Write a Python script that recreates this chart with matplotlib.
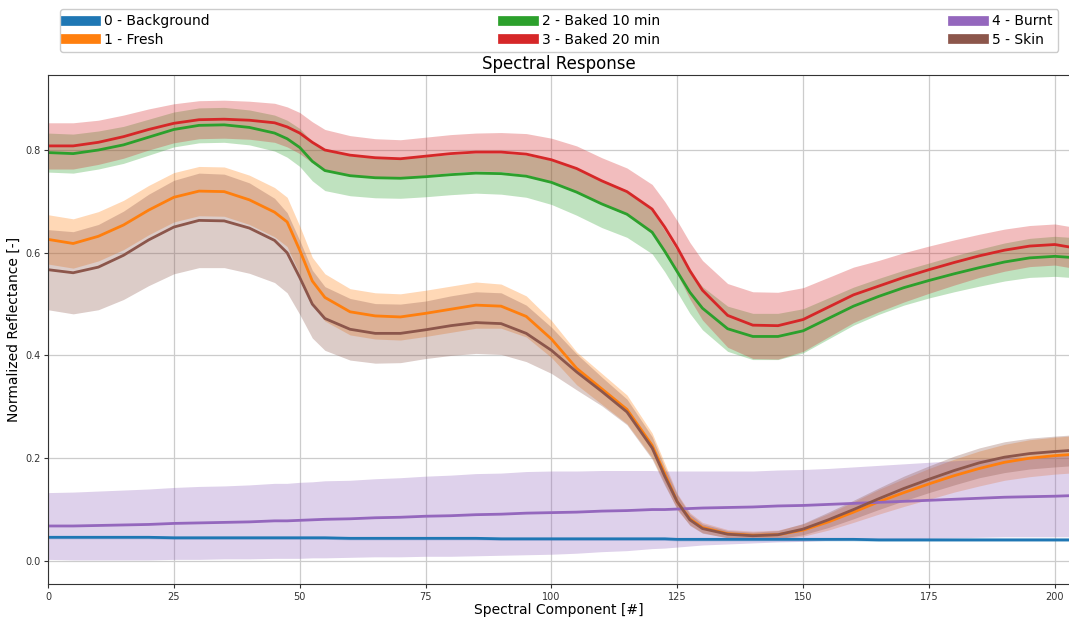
import matplotlib
matplotlib.use("Agg")
import matplotlib.pyplot as plt
from matplotlib.lines import Line2D
import numpy as np

# ---------------- data ----------------
x = [0, 5, 10, 15, 20, 25, 30, 35, 40, 45, 47.5, 50, 52.5, 55, 60, 65, 70, 75, 80, 85,
     90, 95, 100, 105, 110, 115, 120, 122.5, 125, 127.5, 130, 135, 140, 145, 150, 155,
     160, 165, 170, 175, 180, 185, 190, 195, 200, 203]

labels = ["0 - Background", "1 - Fresh", "2 - Baked 10 min",
          "3 - Baked 20 min", "4 - Burnt", "5 - Skin"]

background_mean = [0.046, 0.046, 0.046, 0.046, 0.046, 0.045, 0.045, 0.045, 0.045, 0.045,
                   0.045, 0.045, 0.045, 0.045, 0.044, 0.044, 0.044, 0.044, 0.044, 0.044,
                   0.043, 0.043, 0.043, 0.043, 0.043, 0.043, 0.043, 0.043, 0.042, 0.042,
                   0.042, 0.042, 0.042, 0.042, 0.042, 0.042, 0.042, 0.041, 0.041, 0.041,
                   0.041, 0.041, 0.041, 0.041, 0.041, 0.041]
background_std = [0.003] * 46

fresh_mean = [0.626, 0.618, 0.632, 0.654, 0.683, 0.708, 0.720, 0.719, 0.703, 0.679,
              0.660, 0.605, 0.545, 0.513, 0.485, 0.477, 0.475, 0.482, 0.490, 0.498,
              0.496, 0.476, 0.432, 0.375, 0.335, 0.295, 0.225, 0.170, 0.115, 0.082,
              0.065, 0.053, 0.050, 0.051, 0.060, 0.076, 0.095, 0.115, 0.133, 0.150,
              0.166, 0.180, 0.192, 0.200, 0.205, 0.207]
fresh_std = [0.048, 0.048, 0.048, 0.048, 0.048, 0.048, 0.048, 0.048, 0.048, 0.048,
             0.048, 0.047, 0.046, 0.046, 0.045, 0.045, 0.045, 0.045, 0.045, 0.045,
             0.043, 0.040, 0.036, 0.032, 0.030, 0.028, 0.024, 0.020, 0.016, 0.012,
             0.010, 0.008, 0.008, 0.009, 0.012, 0.016, 0.020, 0.024, 0.027, 0.030,
             0.032, 0.034, 0.035, 0.036, 0.036, 0.036]

baked10_mean = [0.795, 0.793, 0.800, 0.810, 0.825, 0.840, 0.848, 0.849, 0.844, 0.833,
                0.822, 0.805, 0.778, 0.760, 0.750, 0.746, 0.745, 0.748, 0.752, 0.755,
                0.754, 0.749, 0.737, 0.718, 0.695, 0.675, 0.640, 0.603, 0.563, 0.523,
                0.492, 0.452, 0.437, 0.437, 0.448, 0.472, 0.496, 0.515, 0.532, 0.546,
                0.559, 0.571, 0.582, 0.590, 0.593, 0.591]
baked10_std = [0.038, 0.038, 0.037, 0.036, 0.035, 0.034, 0.034, 0.034, 0.034, 0.035,
               0.036, 0.037, 0.038, 0.039, 0.039, 0.039, 0.039, 0.039, 0.039, 0.039,
               0.040, 0.041, 0.043, 0.045, 0.046, 0.045, 0.042, 0.040, 0.040, 0.041,
               0.042, 0.044, 0.045, 0.045, 0.043, 0.040, 0.037, 0.035, 0.034, 0.034,
               0.035, 0.036, 0.037, 0.038, 0.039, 0.039]

baked20_mean = [0.808, 0.808, 0.815, 0.826, 0.840, 0.852, 0.859, 0.860, 0.858, 0.853,
                0.845, 0.833, 0.815, 0.800, 0.790, 0.785, 0.783, 0.788, 0.793, 0.796,
                0.796, 0.792, 0.781, 0.764, 0.740, 0.719, 0.685, 0.650, 0.610, 0.565,
                0.527, 0.478, 0.459, 0.458, 0.470, 0.494, 0.518, 0.535, 0.552, 0.567,
                0.581, 0.594, 0.605, 0.613, 0.616, 0.611]
baked20_std = [0.045, 0.045, 0.043, 0.042, 0.040, 0.038, 0.037, 0.037, 0.037, 0.038,
               0.039, 0.040, 0.040, 0.040, 0.038, 0.037, 0.037, 0.037, 0.037, 0.037,
               0.038, 0.040, 0.042, 0.044, 0.045, 0.046, 0.048, 0.050, 0.052, 0.055,
               0.058, 0.062, 0.065, 0.065, 0.062, 0.058, 0.054, 0.050, 0.048, 0.046,
               0.044, 0.042, 0.041, 0.040, 0.040, 0.040]

burnt_mean = [0.068, 0.068, 0.069, 0.070, 0.071, 0.073, 0.074, 0.075, 0.076, 0.078,
              0.078, 0.079, 0.080, 0.081, 0.082, 0.084, 0.085, 0.087, 0.088, 0.090,
              0.091, 0.093, 0.094, 0.095, 0.097, 0.098, 0.100, 0.100, 0.101, 0.102,
              0.103, 0.104, 0.105, 0.107, 0.108, 0.110, 0.112, 0.114, 0.116, 0.118,
              0.120, 0.122, 0.124, 0.125, 0.126, 0.127]
burnt_std = [0.065, 0.066, 0.067, 0.068, 0.069, 0.070, 0.071, 0.071, 0.072, 0.073,
             0.073, 0.074, 0.074, 0.075, 0.075, 0.076, 0.077, 0.078, 0.079, 0.080,
             0.080, 0.081, 0.081, 0.080, 0.079, 0.078, 0.076, 0.075, 0.074, 0.073,
             0.072, 0.071, 0.070, 0.070, 0.070, 0.070, 0.071, 0.072, 0.073, 0.074,
             0.075, 0.076, 0.077, 0.078, 0.079, 0.080]

skin_mean = [0.567, 0.561, 0.572, 0.595, 0.625, 0.650, 0.663, 0.662, 0.648, 0.624,
             0.600, 0.552, 0.500, 0.472, 0.451, 0.443, 0.443, 0.450, 0.458, 0.464,
             0.462, 0.443, 0.410, 0.368, 0.330, 0.290, 0.220, 0.165, 0.115, 0.080,
             0.063, 0.052, 0.049, 0.051, 0.062, 0.080, 0.100, 0.121, 0.141, 0.159,
             0.176, 0.191, 0.202, 0.209, 0.213, 0.215]
skin_std = [0.078, 0.080, 0.083, 0.086, 0.089, 0.091, 0.092, 0.091, 0.088, 0.082,
            0.078, 0.072, 0.066, 0.062, 0.060, 0.058, 0.057, 0.056, 0.058, 0.060,
            0.060, 0.055, 0.045, 0.035, 0.028, 0.025, 0.022, 0.018, 0.014, 0.011,
            0.009, 0.007, 0.007, 0.008, 0.011, 0.015, 0.018, 0.021, 0.024, 0.026,
            0.028, 0.029, 0.030, 0.030, 0.030, 0.030]

colors = ["#1f77b4", "#ff7f0e", "#2ca02c", "#d62728", "#9467bd", "#8c564b"]

means = [background_mean, fresh_mean, baked10_mean, baked20_mean, burnt_mean, skin_mean]
stds = [background_std, fresh_std, baked10_std, baked20_std, burnt_std, skin_std]

# ---------------- plot ----------------
fig = plt.figure(figsize=(10.69, 6.19), dpi=100)
ax = fig.add_axes([0.0449, 0.0565, 0.956, 0.8223])

xa = np.array(x)
for m, s, c in zip(means, stds, colors):
    m = np.array(m)
    s = np.array(s)
    ax.fill_between(xa, m - s, m + s, color=c, alpha=0.3, linewidth=0)
    ax.plot(xa, m, color=c, linewidth=2)

ax.set_xlim(0, 203)
ax.set_ylim(-0.045, 0.946)
ax.set_xticks([0, 25, 50, 75, 100, 125, 150, 175, 200])
ax.set_yticks([0.0, 0.2, 0.4, 0.6, 0.8])
ax.tick_params(labelsize=7, colors="#333333", length=3, pad=2.5)
ax.grid(True, color="#cccccc", linewidth=0.9)
ax.set_axisbelow(True)
for sp in ax.spines.values():
    sp.set_color("#333333")

ax.set_title("Spectral Response", fontsize=12, pad=4)
ax.set_xlabel("Spectral Component [#]", fontsize=10, labelpad=1)
ax.set_ylabel("Normalized Reflectance [-]", fontsize=10, labelpad=3)

handles = [Line2D([0], [0], color=c, linewidth=7) for c in colors]
ax.legend(handles, labels, loc="lower left", bbox_to_anchor=(0.0117, 1.045, 0.977, 0.08),
          mode="expand", ncol=3, borderaxespad=0, fontsize=10, handlelength=2.2,
          handletextpad=0.6, labelspacing=0.3, framealpha=1)

fig.savefig("out.png", dpi=100)
